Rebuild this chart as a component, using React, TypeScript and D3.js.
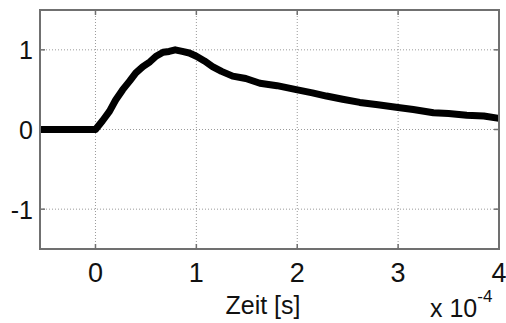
import React from "react";
import * as d3 from "d3";

// time in units of 1e-4 s
const timeValues = [-0.55, 0, 0.07, 0.14, 0.2, 0.27, 0.34, 0.4, 0.47, 0.54, 0.6, 0.67, 0.73, 0.79, 0.86, 0.93, 1.0, 1.08, 1.16, 1.25, 1.36, 1.49, 1.63, 1.8, 1.99, 2.15, 2.29, 2.45, 2.62, 2.8, 2.98, 3.15, 3.35, 3.5, 3.68, 3.85, 4.0];
const signalValues = [0, 0, 0.11, 0.23, 0.37, 0.5, 0.61, 0.71, 0.79, 0.85, 0.92, 0.97, 0.98, 1.0, 0.98, 0.96, 0.92, 0.86, 0.79, 0.73, 0.67, 0.64, 0.58, 0.55, 0.5, 0.46, 0.42, 0.38, 0.34, 0.31, 0.28, 0.25, 0.21, 0.2, 0.18, 0.17, 0.14];
const xTicks = [0, 1, 2, 3, 4];
const yTicks = [-1, 0, 1];
const xLabel = "Zeit [s]";

const W = 506;
const H = 323;
const left = 40, right = 499, top = 10, bottom = 249;
const font = "Arial, 'Liberation Sans', Helvetica, sans-serif";

export default function App() {
  const x = d3.scaleLinear().domain([-0.55, 4]).range([left, right]);
  const y = d3.scaleLinear().domain([-1.5, 1.5]).range([bottom, top]);
  const pts: [number, number][] = timeValues.map((t, i) => [t, signalValues[i]]);
  const line = d3.line<[number, number]>().x(d => x(d[0])).y(d => y(d[1]));
  const axisColor = "#707070";
  const tick = 5;
  return (
    <svg width={W} height={H} style={{ position: "absolute", left: 0, top: 0, background: "#fff" }}>
      <rect x={0} y={0} width={W} height={H} fill="#fff" />
      {xTicks.map(t => (
        <line key={"gx" + t} x1={x(t)} x2={x(t)} y1={top} y2={bottom} stroke="#9a9a9a" strokeWidth={1} strokeDasharray="1,2" />
      ))}
      {yTicks.map(t => (
        <line key={"gy" + t} x1={left} x2={right} y1={y(t)} y2={y(t)} stroke="#9a9a9a" strokeWidth={1} strokeDasharray="1,2" />
      ))}
      {xTicks.map(t => (
        <g key={"tx" + t}>
          <line x1={x(t)} x2={x(t)} y1={bottom} y2={bottom - tick} stroke={axisColor} strokeWidth={1.5} />
          <line x1={x(t)} x2={x(t)} y1={top} y2={top + tick} stroke={axisColor} strokeWidth={1.5} />
          <text x={x(t)} y={282} textAnchor="middle" fontFamily={font} fontSize={27} fill="#111">{t}</text>
        </g>
      ))}
      {yTicks.map(t => (
        <g key={"ty" + t}>
          <line x1={left} x2={left + tick} y1={y(t)} y2={y(t)} stroke={axisColor} strokeWidth={1.5} />
          <line x1={right} x2={right - tick} y1={y(t)} y2={y(t)} stroke={axisColor} strokeWidth={1.5} />
          <text x={33} y={y(t) + 9.5} textAnchor="end" fontFamily={font} fontSize={25} fill="#111">{t}</text>
        </g>
      ))}
      <path d={line(pts) || ""} fill="none" stroke="#000" strokeWidth={7} strokeLinejoin="round" strokeLinecap="butt" />
      <rect x={left} y={top} width={right - left} height={bottom - top} fill="none" stroke={axisColor} strokeWidth={2} />
      <text x={263} y={314} textAnchor="middle" fontFamily={font} fontSize={25} fill="#111">{xLabel}</text>
      <text x={430} y={317} fontFamily={font} fontSize={25} fill="#111">
        x 10<tspan dy={-15} fontSize={17}>-4</tspan>
      </text>
    </svg>
  );
}
